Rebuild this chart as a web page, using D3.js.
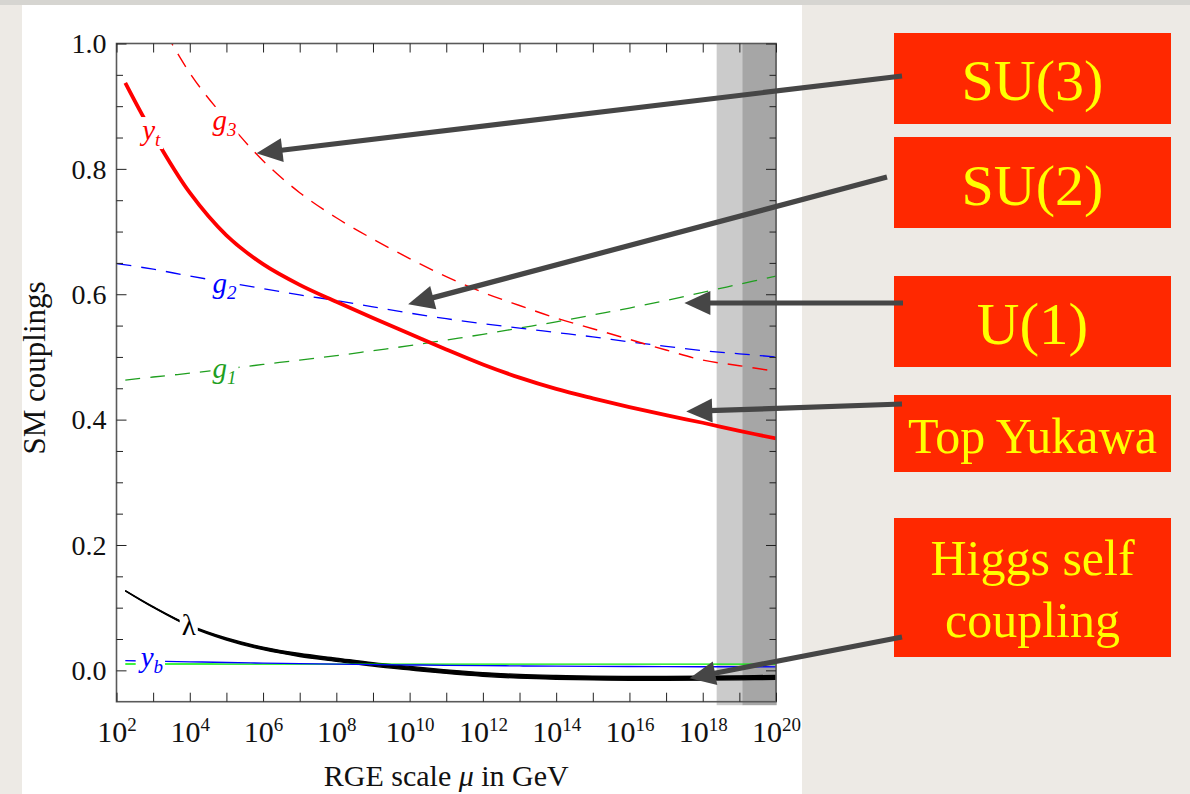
<!DOCTYPE html>
<html>
<head>
<meta charset="utf-8">
<script src="https://cdn.jsdelivr.net/npm/d3@7"></script>
<style>
  body { margin: 0; background: #edeae5; }
  svg { display: block; }
</style>
</head>
<body>
<svg id="chart" width="1190" height="794"></svg>
<script>
// Running Standard Model couplings vs. renormalisation scale (log10 of mu / GeV)
const muExp   = [2.24, 3, 4, 5, 6, 7, 8, 9, 10, 11, 12, 13, 14, 15, 16, 17, 18, 19, 20];
const g2Exp   = [2.0, 3, 4, 5, 6, 7, 8, 9, 10, 11, 12, 13, 14, 15, 16, 17, 18, 19, 20];

const g3      = [1.164, 1.057, 0.953, 0.878, 0.813, 0.762, 0.722, 0.688, 0.657, 0.628, 0.603, 0.582, 0.562, 0.545, 0.528, 0.511, 0.495, 0.486, 0.477];
const g2      = [0.649, 0.640, 0.629, 0.619, 0.609, 0.599, 0.590, 0.580, 0.570, 0.561, 0.553, 0.546, 0.539, 0.532, 0.524, 0.517, 0.510, 0.505, 0.500];
const g1      = [0.463, 0.468, 0.474, 0.481, 0.488, 0.495, 0.502, 0.510, 0.518, 0.527, 0.536, 0.546, 0.556, 0.567, 0.578, 0.590, 0.603, 0.616, 0.629];
const yt      = [0.937, 0.855, 0.762, 0.694, 0.648, 0.615, 0.588, 0.562, 0.537, 0.512, 0.488, 0.467, 0.449, 0.434, 0.420, 0.407, 0.395, 0.382, 0.370];
const yb      = [0.0155, 0.0147, 0.0136, 0.0125, 0.0116, 0.0107, 0.0099, 0.0092, 0.0086, 0.0080, 0.0075, 0.0071, 0.0067, 0.0064, 0.0062, 0.0060, 0.0058, 0.0057, 0.0056];
const ytau    = [0.0102, 0.0101, 0.0101, 0.0100, 0.0100, 0.0100, 0.0099, 0.0099, 0.0099, 0.0099, 0.0099, 0.0099, 0.0099, 0.0099, 0.0100, 0.0100, 0.0100, 0.0100, 0.0100];
const lambda  = [0.127, 0.101, 0.071, 0.050, 0.035, 0.0245, 0.0170, 0.0095, 0.0035, -0.0020, -0.0065, -0.0095, -0.0112, -0.0122, -0.0127, -0.0127, -0.0124, -0.0119, -0.0112];
const lambdaSpread = [0.0003, 0.0007, 0.0012, 0.0017, 0.0021, 0.0024, 0.0026, 0.0027, 0.0028, 0.0029, 0.0030, 0.0030, 0.0031, 0.0031, 0.0032, 0.0032, 0.0032, 0.0032, 0.0032];

// Planck-scale shading: reduced Planck mass, Planck mass, axis end
const planckBands = [[2.4e18, 1.22e19, "#cbcbcb"], [1.22e19, 1e20, "#a6a6a6"]];

const xTickExp   = d3.range(2, 21);
const xLabelExp  = d3.range(2, 21, 2);
const yMajor     = [0, 0.2, 0.4, 0.6, 0.8, 1.0];
const yMinor     = d3.range(0.05, 1.0, 0.05).filter(v => Math.abs(v * 5 - Math.round(v * 5)) > 1e-6);

const curveLabels = [
  { main: "g", sub: "3", e: 4.62, v: 0.862, color: "#ff0000", italic: true },
  { main: "g", sub: "2", e: 4.62, v: 0.602, color: "#0000ff", italic: true },
  { main: "g", sub: "1", e: 4.62, v: 0.467, color: "#1f9f1f", italic: true },
  { main: "y", sub: "t", e: 2.70, v: 0.846, color: "#ff0000", italic: true },
  { main: "λ", sub: "",  e: 3.78, v: 0.057, color: "#000000", italic: false },
  { main: "y", sub: "b", e: 2.66, v: 0.0055, color: "#0000ff", italic: true }
];

const callouts = [
  { lines: ["SU(3)"],                  y0: 33,  y1: 124, size: 58, base: [100],      tail: [902, 76],  tip: [5.82, 0.825] },
  { lines: ["SU(2)"],                  y0: 137, y1: 228, size: 58, base: [205],      tail: [887, 177], tip: [9.96, 0.584] },
  { lines: ["U(1)"],                   y0: 276, y1: 367, size: 59, base: [344],      tail: [903, 303], tip: [17.50, 0.586] },
  { lines: ["Top Yukawa"],             y0: 395, y1: 472, size: 50, base: [453],      tail: [902, 404], tip: [17.55, 0.413] },
  { lines: ["Higgs self", "coupling"], y0: 518, y1: 657, size: 50, base: [575, 637], tail: [902, 637], tip: [17.64, -0.0124] }
];

const serif = '"Liberation Serif", "Times New Roman", "DejaVu Serif", serif';
const svg = d3.select("#chart");

// page background and white panel
svg.append("rect").attr("width", 1190).attr("height", 794).attr("fill", "#edeae5");
svg.append("rect").attr("width", 1190).attr("height", 5).attr("fill", "#d6d5d1");
svg.append("rect").attr("x", 22).attr("y", 5).attr("width", 780).attr("height", 789).attr("fill", "#ffffff");

const pL = 116.5, pR = 776, pT = 43.5, pB = 701.7;
const x = d3.scaleLog().domain([1e2, 1e20]).range([pL, pR]);
const y = d3.scaleLinear().domain([-0.05, 1.0]).range([pB, pT]);
const X = e => x(Math.pow(10, e));

// shaded Planck region
svg.append("g").selectAll("rect").data(planckBands).join("rect")
  .attr("x", d => x(d[0])).attr("width", d => x(d[1]) - x(d[0]) + 0.7)
  .attr("y", pT).attr("height", pB - pT + 3.5)
  .attr("fill", d => d[2]);

svg.append("clipPath").attr("id", "plotClip")
  .append("rect").attr("x", pL).attr("y", pT).attr("width", pR - pL).attr("height", pB - pT);

const plot = svg.append("g").attr("clip-path", "url(#plotClip)");
const smooth = d3.curveCatmullRom.alpha(0.5);

const line = (xs, ys) => d3.line().curve(smooth)
  .x((d, i) => X(xs[i])).y((d, i) => y(ys[i]))(ys);

// lambda uncertainty band
const band = d3.area().curve(smooth)
  .x((d, i) => X(muExp[i]))
  .y0((d, i) => y(lambda[i] - lambdaSpread[i]))
  .y1((d, i) => y(lambda[i] + lambdaSpread[i]));
plot.append("path").attr("d", band(lambda)).attr("fill", "#000");
[-1, 0, 1].forEach(s => {
  plot.append("path")
    .attr("d", line(muExp, lambda.map((v, i) => v + s * lambdaSpread[i])))
    .attr("fill", "none").attr("stroke", "#000").attr("stroke-width", 1.3);
});

const series = [
  { xs: muExp, ys: ytau, color: "#00ee00", width: 1.4, dash: null },
  { xs: muExp, ys: yb,   color: "#0000ff", width: 1.4, dash: null },
  { xs: muExp, ys: g1,   color: "#1f9f1f", width: 1.3, dash: "15,10" },
  { xs: g2Exp, ys: g2,   color: "#0000ff", width: 1.3, dash: "15,10" },
  { xs: muExp, ys: g3,   color: "#ff0000", width: 1.4, dash: "15,10" },
  { xs: muExp, ys: yt,   color: "#ff0000", width: 3.8, dash: null }
];
series.forEach(s => {
  plot.append("path").attr("d", line(s.xs, s.ys))
    .attr("fill", "none").attr("stroke", s.color)
    .attr("stroke-width", s.width)
    .attr("stroke-dasharray", s.dash);
});

// curve labels on white patches
const labG = svg.append("g");
curveLabels.forEach(l => {
  const t = labG.append("text")
    .attr("x", X(l.e)).attr("y", y(l.v))
    .attr("fill", l.color)
    .style("font-family", serif).style("font-size", "29px")
    .style("font-style", l.italic ? "italic" : "normal");
  t.append("tspan").text(l.main);
  if (l.sub) t.append("tspan").attr("dy", 6).style("font-size", "19px").text(l.sub);
  const bb = t.node().getBBox();
  labG.insert("rect", () => t.node())
    .attr("x", bb.x - 2).attr("y", bb.y + 3).attr("width", bb.width + 4).attr("height", bb.height - 4)
    .attr("fill", "#fff");
});

// frame
svg.append("rect").attr("x", pL).attr("y", pT)
  .attr("width", pR - pL).attr("height", pB - pT)
  .attr("fill", "none").attr("stroke", "#5a5a5a").attr("stroke-width", 1.6);

function styleAxis(g) {
  g.select(".domain").remove();
  g.selectAll(".tick line").attr("stroke", "#222").attr("stroke-width", 1);
  g.attr("font-family", serif).attr("fill", "#000");
}

// x axes (bottom labelled, top mirrored)
const xBottom = svg.append("g").attr("transform", `translate(0,${pB})`)
  .call(d3.axisBottom(x).tickValues(xTickExp.map(e => Math.pow(10, e)))
    .tickSizeInner(-9).tickSizeOuter(0).tickFormat(() => ""))
  .call(styleAxis);
xBottom.selectAll(".tick text").each(function(d) {
  const e = Math.round(Math.log10(d));
  const t = d3.select(this).attr("y", 40).attr("dy", null)
    .attr("fill", "#111").style("font-size", "30px");
  if (!xLabelExp.includes(e)) return;
  t.append("tspan").text("10");
  t.append("tspan").attr("dy", -11).style("font-size", "19px").text(String(e));
});
svg.append("g").attr("transform", `translate(0,${pT})`)
  .call(d3.axisTop(x).tickValues(xTickExp.map(e => Math.pow(10, e)))
    .tickSizeInner(-9).tickSizeOuter(0).tickFormat(() => ""))
  .call(styleAxis);

// y axes: major with labels, minor ticks, mirrored on the right
svg.append("g").attr("transform", `translate(${pL},0)`)
  .call(d3.axisLeft(y).tickValues(yMajor).tickSizeInner(-10).tickSizeOuter(0)
    .tickPadding(10).tickFormat(d3.format(".1f")))
  .call(styleAxis)
  .call(g => g.selectAll(".tick text").style("font-size", "28px").attr("fill", "#111").attr("dy", "0.33em"));
svg.append("g").attr("transform", `translate(${pL},0)`)
  .call(d3.axisLeft(y).tickValues(yMinor).tickSizeInner(-6.5).tickSizeOuter(0).tickFormat(() => ""))
  .call(styleAxis);
svg.append("g").attr("transform", `translate(${pR},0)`)
  .call(d3.axisRight(y).tickValues(yMajor).tickSizeInner(-10).tickSizeOuter(0).tickFormat(() => ""))
  .call(styleAxis);
svg.append("g").attr("transform", `translate(${pR},0)`)
  .call(d3.axisRight(y).tickValues(yMinor).tickSizeInner(-6.5).tickSizeOuter(0).tickFormat(() => ""))
  .call(styleAxis);

// axis titles
const xt = svg.append("text").attr("x", (pL + pR) / 2).attr("y", 786)
  .attr("text-anchor", "middle").attr("fill", "#111")
  .style("font-family", serif).style("font-size", "30px");
xt.append("tspan").text("RGE scale ");
xt.append("tspan").style("font-style", "italic").text("μ");
xt.append("tspan").text(" in GeV");

svg.append("text").attr("transform", "translate(45,368) rotate(-90)")
  .attr("text-anchor", "middle").attr("fill", "#111")
  .style("font-family", serif).style("font-size", "31px")
  .text("SM couplings");

// callout boxes
const boxX0 = 894, boxX1 = 1171;
callouts.forEach(c => {
  svg.append("rect").attr("x", boxX0).attr("y", c.y0)
    .attr("width", boxX1 - boxX0).attr("height", c.y1 - c.y0)
    .attr("fill", "#ff2800");
  c.lines.forEach((txt, i) => {
    svg.append("text").attr("x", (boxX0 + boxX1) / 2).attr("y", c.base[i])
      .attr("text-anchor", "middle").attr("fill", "#ffff00")
      .style("font-family", serif).style("font-size", c.size + "px")
      .text(txt);
  });
});

// arrows from callouts to curves
const arrowG = svg.append("g");
callouts.forEach(c => {
  const [tx, ty] = [X(c.tip[0]), y(c.tip[1])];
  const [sx, sy] = c.tail;
  const dx = tx - sx, dy = ty - sy, len = Math.hypot(dx, dy);
  const ux = dx / len, uy = dy / len, px = -uy, py = ux;
  const headL = 26, headW = 12;
  const bx = tx - ux * headL, by = ty - uy * headL;
  arrowG.append("line").attr("x1", sx).attr("y1", sy)
    .attr("x2", bx + ux * 3).attr("y2", by + uy * 3)
    .attr("stroke", "#464646").attr("stroke-width", 5.2);
  arrowG.append("path")
    .attr("d", `M${tx},${ty}L${bx + px * headW},${by + py * headW}L${bx - px * headW},${by - py * headW}Z`)
    .attr("fill", "#464646");
});
</script>
</body>
</html>
